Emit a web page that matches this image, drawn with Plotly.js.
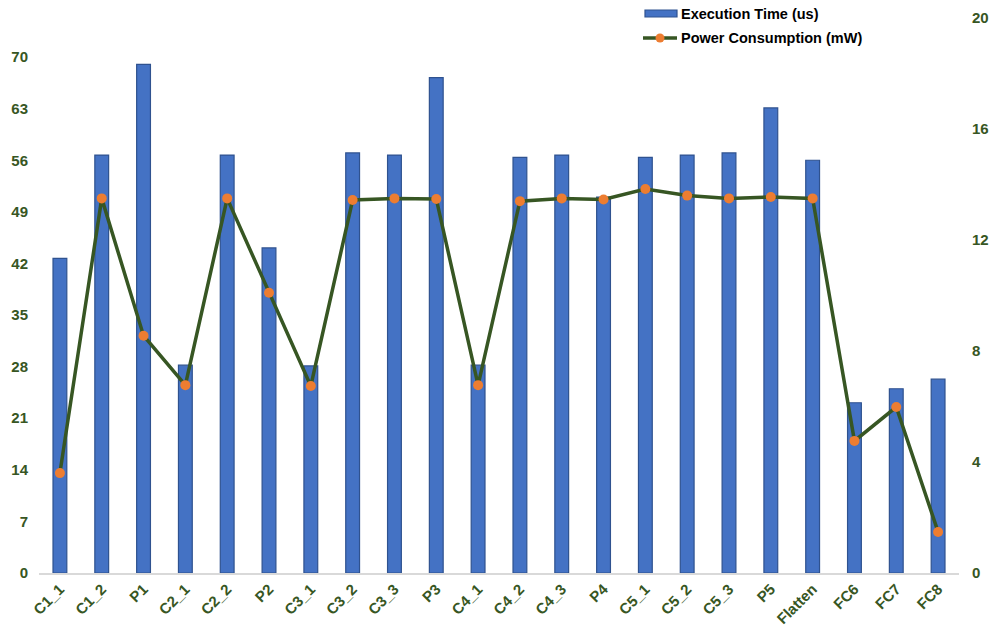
<!DOCTYPE html>
<html>
<head>
<meta charset="utf-8">
<script src="https://cdn.plot.ly/plotly-3.0.1.min.js"></script>
<style>html,body{margin:0;padding:0;background:#fff;}#chart{width:996px;height:632px;}</style>
</head>
<body>
<div id="chart"></div>
<script>
const categories = ["C1_1","C1_2","P1","C2_1","C2_2","P2","C3_1","C3_2","C3_3","P3","C4_1","C4_2","C4_3","P4","C5_1","C5_2","C5_3","P5","Flatten","FC6","FC7","FC8"];
const executionTime = [42.7,56.7,69.0,28.2,56.7,44.1,28.1,57.0,56.7,67.2,28.2,56.4,56.7,51.0,56.4,56.7,57.0,63.1,56.0,23.1,25.0,26.3];
const powerConsumption = [3.6,13.5,8.55,6.77,13.5,10.1,6.74,13.44,13.5,13.48,6.77,13.4,13.5,13.46,13.84,13.6,13.5,13.55,13.5,4.76,5.98,1.48];
const leftTicks = [0,7,14,21,28,35,42,49,56,63,70];
const rightTicks = [0,4,8,12,16,20];
const seriesNames = ["Execution Time (us)", "Power Consumption (mW)"];

const FONT = "Liberation Sans, Arial, sans-serif";
const tickFont = {family: FONT, size: 15, color: "#375623", weight: "bold"};
const BAR_COLOR = "#4472C4", BAR_LINE = "#2F528F", LINE_COLOR = "#375623", MARKER_COLOR = "#ED7D31";

const traces = [
  {
    type: "bar", name: seriesNames[0], x: categories, y: executionTime,
    marker: {color: BAR_COLOR, line: {color: BAR_LINE, width: 1.2}},
    width: 0.33, yaxis: "y", showlegend: false
  },
  {
    type: "scatter", mode: "lines+markers", name: seriesNames[1], x: categories, y: powerConsumption,
    line: {color: LINE_COLOR, width: 3.5},
    marker: {color: MARKER_COLOR, size: 10},
    yaxis: "y2", showlegend: false
  }
];

// plot area: x 39..959 px, y 18..573 px
const px = v => (v - 39) / 920;
const py = v => (573 - v) / 555;

const shapes = [
  {type: "rect", xref: "paper", yref: "paper", x0: px(645), x1: px(677), y0: py(17), y1: py(10),
   fillcolor: BAR_COLOR, line: {color: BAR_LINE, width: 1.2}},
  {type: "line", xref: "paper", yref: "paper", x0: px(643), x1: px(677), y0: py(38), y1: py(38),
   line: {color: LINE_COLOR, width: 3.5}},
  {type: "circle", xref: "paper", yref: "paper", x0: px(655.5), x1: px(664.5), y0: py(42.5), y1: py(33.5),
   fillcolor: MARKER_COLOR, line: {color: MARKER_COLOR, width: 0}}
];

const annotations = [
  {xref: "paper", yref: "paper", x: px(679), y: py(13.5), xanchor: "left", yanchor: "middle", showarrow: false,
   text: seriesNames[0], font: {family: FONT, size: 14.5, color: "#000", weight: "bold"}},
  {xref: "paper", yref: "paper", x: px(679), y: py(38.5), xanchor: "left", yanchor: "middle", showarrow: false,
   text: seriesNames[1], font: {family: FONT, size: 14.5, color: "#000", weight: "bold"}}
];

const layout = {
  width: 996, height: 632,
  margin: {l: 39, r: 37, t: 18, b: 59},
  paper_bgcolor: "#fff", plot_bgcolor: "#fff",
  showlegend: false,
  shapes: shapes,
  annotations: annotations,
  bargap: 0.67,
  xaxis: {
    type: "category", tickfont: tickFont, tickangle: -45, showgrid: false, zeroline: false,
    showline: true, linecolor: "#d9d9d9", linewidth: 1.5, ticks: "", range: [-0.5, 21.5], automargin: false
  },
  yaxis: {
    range: [0, 75.3], tickvals: leftTicks, tickfont: tickFont, showgrid: false, zeroline: false,
    showline: false, ticks: "", ticklabelstandoff: 10, automargin: false
  },
  yaxis2: {
    range: [0, 20], tickvals: rightTicks, tickfont: tickFont, overlaying: "y", side: "right",
    showgrid: false, zeroline: false, showline: false, ticks: "", ticklabelstandoff: 12, automargin: false
  }
};

Plotly.newPlot("chart", traces, layout, {displayModeBar: false, staticPlot: true});
</script>
</body>
</html>
